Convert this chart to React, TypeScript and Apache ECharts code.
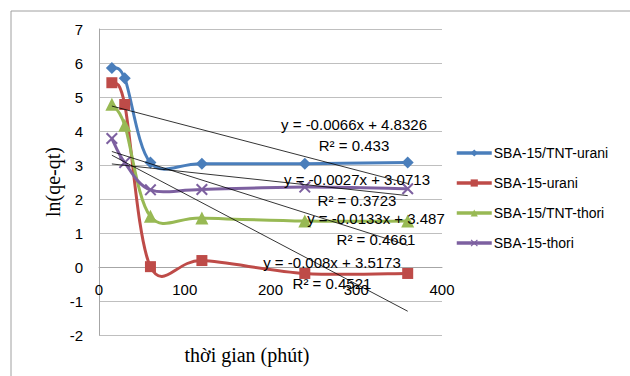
import React, { useEffect, useRef } from 'react';
import * as echarts from 'echarts';

const times = [15, 30, 60, 120, 240, 360];
const seriesNames = ['SBA-15/TNT-urani', 'SBA-15-urani', 'SBA-15/TNT-thori', 'SBA-15-thori'];
const tntUrani = [5.85, 5.55, 3.07, 3.04, 3.04, 3.07];
const sbaUrani = [5.42, 4.78, 0.01, 0.19, -0.19, -0.19];
const tntThori = [4.79, 4.17, 1.49, 1.44, 1.35, 1.35];
const sbaThori = [3.78, 3.07, 2.27, 2.28, 2.35, 2.3];
const seriesValues = [tntUrani, sbaUrani, tntThori, sbaThori];
const trendSlopes = [-0.0066, -0.0133, -0.008, -0.0027];
const trendIntercepts = [4.8326, 3.487, 3.5173, 3.0713];
const trendR2 = ['0.433', '0.4661', '0.4521', '0.3723'];
const xTicks = [0, 100, 200, 300, 400];
const yTicks = [-2, 7];

const colors = ['#4A7EBB', '#BE4B48', '#98B954', '#7D60A0'];
const symbols = [
  'diamond',
  'rect',
  'triangle',
  'path://M0,1.2 L1.2,0 L5,3.8 L8.8,0 L10,1.2 L6.2,5 L10,8.8 L8.8,10 L5,6.2 L1.2,10 L0,8.8 L3.8,5 Z',
];
const symbolSizes = [12, 11, 13, 12];
const eqPos = [
  [354, 124],
  [376, 218],
  [332, 262],
  [357, 179],
];

// Excel-like smoothed curve (Catmull-Rom as cubic Bezier) through the pixel points
function smoothPath(pts: number[][]): string {
  const n = pts.length;
  let d = `M${pts[0][0]},${pts[0][1]}`;
  for (let i = 0; i < n - 1; i++) {
    const p0 = pts[Math.max(0, i - 1)];
    const p1 = pts[i];
    const p2 = pts[i + 1];
    const p3 = pts[Math.min(n - 1, i + 2)];
    const c1x = p1[0] + (p2[0] - p0[0]) / 6;
    const c1y = p1[1] + (p2[1] - p0[1]) / 6;
    const c2x = p2[0] - (p3[0] - p1[0]) / 6;
    const c2y = p2[1] - (p3[1] - p1[1]) / 6;
    d += ` C${c1x},${c1y} ${c2x},${c2y} ${p2[0]},${p2[1]}`;
  }
  return d;
}

export default function App() {
  const ref = useRef<HTMLDivElement>(null);
  useEffect(() => {
    document.body.style.margin = '0';
    const chart = echarts.init(ref.current!, null, { renderer: 'svg' });
    const gridTop = 29;
    const gridBottom = 41;
    const plotH = 376 - gridTop - gridBottom;
    const zeroOffset = -(plotH * (0 - yTicks[0])) / (yTicks[1] - yTicks[0]);
    const curveSeries = seriesNames.map((name, i) => ({
      name: name + ' curve',
      type: 'custom',
      coordinateSystem: 'cartesian2d',
      data: times.map((t, j) => [t, seriesValues[i][j]]),
      encode: { x: 0, y: 1 },
      silent: true,
      z: 2,
      renderItem: (params: any, api: any) => {
        if (params.dataIndex !== 0) return null;
        const pts = times.map((t, j) => api.coord([t, seriesValues[i][j]]));
        return {
          type: 'path',
          shape: { pathData: smoothPath(pts) },
          style: { fill: 'none', stroke: colors[i], lineWidth: 3 },
        };
      },
    }));
    const markerSeries = seriesNames.map((name, i) => ({
      name,
      type: 'line',
      data: times.map((t, j) => [t, seriesValues[i][j]]),
      symbol: symbols[i],
      symbolSize: symbolSizes[i],
      showAllSymbol: true,
      lineStyle: { color: colors[i], width: 3, opacity: 0 },
      itemStyle: { color: colors[i] },
      z: 3,
    }));
    const trendSeries = seriesNames.map((name, i) => {
      const x0 = times[0];
      const x1 = times[times.length - 1];
      return {
        name: name + ' trend',
        type: 'line',
        data: [
          [x0, trendSlopes[i] * x0 + trendIntercepts[i]],
          [x1, trendSlopes[i] * x1 + trendIntercepts[i]],
        ],
        symbol: 'none',
        silent: true,
        lineStyle: { color: '#000', width: 0.8 },
        z: 4,
      };
    });
    const eqTexts: any[] = [];
    seriesNames.forEach((_, i) => {
      eqTexts.push({
        type: 'text',
        x: eqPos[i][0],
        y: eqPos[i][1],
        z: 10,
        style: {
          text: `y = ${trendSlopes[i]}x + ${trendIntercepts[i]}`,
          fill: '#000',
          font: '15px "Liberation Sans", Arial, sans-serif',
          textAlign: 'center',
          textVerticalAlign: 'middle',
        },
      });
      eqTexts.push({
        type: 'text',
        x: eqPos[i][0],
        y: eqPos[i][1] + 21,
        z: 10,
        style: {
          text: `R² = ${trendR2[i]}`,
          fill: '#000',
          font: '15px "Liberation Sans", Arial, sans-serif',
          textAlign: 'center',
          textVerticalAlign: 'middle',
        },
      });
    });
    chart.setOption({
      animation: false,
      grid: { left: 99, right: 188, top: gridTop, bottom: gridBottom },
      xAxis: {
        type: 'value',
        min: xTicks[0],
        max: xTicks[xTicks.length - 1],
        interval: 100,
        position: 'bottom',
        offset: zeroOffset,
        axisLine: { onZero: false, lineStyle: { color: '#a6a6a6', width: 1 } },
        axisTick: { show: false },
        splitLine: { show: false },
        axisLabel: { color: '#000', fontSize: 15, fontFamily: '"Liberation Sans", Arial, sans-serif', margin: 15 },
      },
      yAxis: {
        type: 'value',
        min: yTicks[0],
        max: yTicks[1],
        interval: 1,
        axisLine: { show: true, onZero: false, lineStyle: { color: '#a6a6a6', width: 1 } },
        axisTick: { show: false },
        splitLine: { show: true, lineStyle: { color: '#bfbfbf', width: 1 } },
        axisLabel: { color: '#000', fontSize: 15, fontFamily: '"Liberation Sans", Arial, sans-serif', margin: 16 },
      },
      legend: {
        data: seriesNames,
        orient: 'vertical',
        left: 450,
        top: 141,
        itemWidth: 35,
        itemHeight: 9,
        itemGap: 16,
        lineStyle: { opacity: 1, width: 3.5 },
        textStyle: { color: '#000', fontSize: 14, fontFamily: '"Liberation Sans", Arial, sans-serif', padding: [0, 0, 0, -3] },
      },
      graphic: [
        {
          type: 'rect',
          shape: { x: 11, y: 11, width: 700, height: 500 },
          style: { fill: 'none', stroke: '#a0a0a0', lineWidth: 1 },
          silent: true,
        },
        {
          type: 'text',
          x: 53,
          y: 182,
          rotation: Math.PI / 2,
          style: {
            text: 'ln(qe-qt)',
            fill: '#000',
            font: '20px "Liberation Serif", "Times New Roman", serif',
            textAlign: 'center',
            textVerticalAlign: 'middle',
          },
        },
        {
          type: 'text',
          x: 247,
          y: 355,
          style: {
            text: 'thời gian (phút)',
            fill: '#000',
            font: '20px "Liberation Serif", "Times New Roman", serif',
            textAlign: 'center',
            textVerticalAlign: 'middle',
          },
        },
        ...eqTexts,
      ],
      series: [...curveSeries, ...markerSeries, ...trendSeries],
    });
    return () => chart.dispose();
  }, []);
  return <div ref={ref} style={{ width: 630, height: 376 }} />;
}
